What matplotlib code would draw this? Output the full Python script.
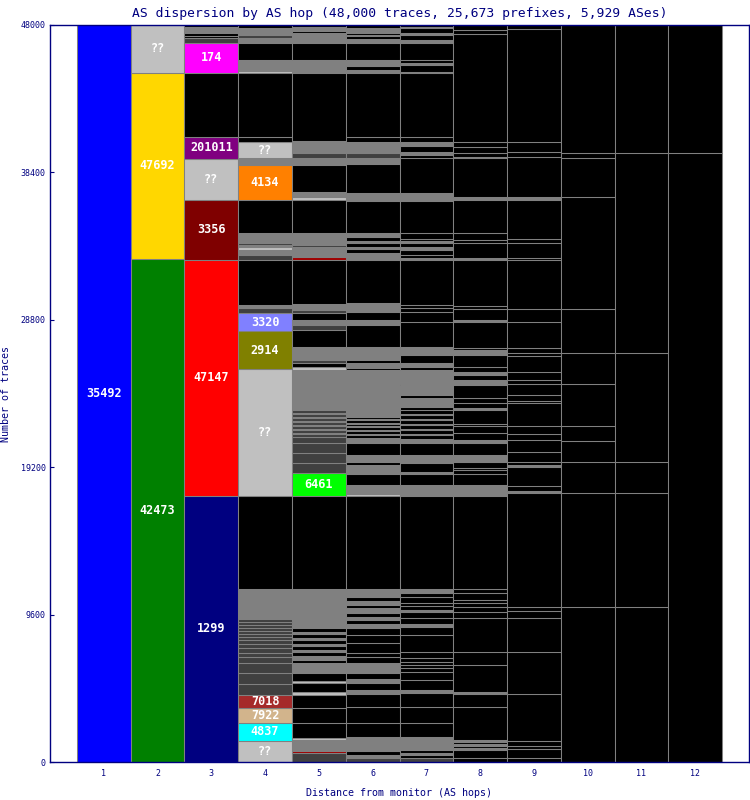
import matplotlib.pyplot as plt

title = 'AS dispersion by AS hop (48,000 traces, 25,673 prefixes, 5,929 ASes)'
hops = list(range(1, 13))
yticks = [0, 9600, 19200, 28800, 38400, 48000]

# traces per segment, bottom to top.
# kind is the AS shown in the box, or a filler: k black, g gray, d dark gray, l light gray, r red line
hop1_traces = [48000]
hop1_kinds = ['35492']

hop2_traces = [32760, 12114, 3126]
hop2_kinds = ['42473', '47692', '??']

hop3_traces = [17325, 15371, 3908, 2670, 1433, 4168, 1954, 326, 130, 195, 391, 130]
hop3_kinds = ['1299', '47147', '3356', '??', '201011', 'k', '174', 'd', 'k', 'k', 'g', 'k']

hop4_traces = [1368, 1172, 977, 847, 716, 716, 651, 391, 261, 326, 261, 261, 195,
               195, 195, 195, 195, 195, 195, 65, 1889, 6057, 8272, 2475, 1172, 326,
               195, 2931, 326, 326, 195, 130, 130, 651, 2149, 2280, 456, 1042, 326,
               4168, 130, 716, 1107, 326, 195, 456, 195]
hop4_kinds = ['??', '4837', '7922', '7018', 'd', 'd', 'd', 'd', 'd', 'd', 'd', 'd', 'd',
              'd', 'd', 'd', 'd', 'd', 'd', 'd', 'g', 'k', '??', '2914', '3320', 'd',
              'g', 'k', 'd', 'g', 'l', 'g', 'd', 'g', 'k', '4134', 'g', '??', 'k',
              'k', 'l', 'g', 'k', 'g', 'd', 'g', 'k']

hop5_traces = [586, 130, 716, 130, 977, 977, 847, 195, 586, 130, 521, 651, 195, 261,
               261, 130, 261, 130, 261, 130, 261, 130, 261, 391, 65, 2084, 6057,
               1498, 651, 651, 651, 391,
               195, 65, 195, 65, 195, 65, 195, 65, 195, 65, 195, 65, 195,
               2605, 195, 261, 195, 847, 1107, 326, 326, 456, 195, 391, 2866,
               195, 651, 130, 782, 2149, 195, 326, 1759, 456, 326, 782, 4429,
               847, 1107, 651, 130, 261, 130]
hop5_kinds = ['d', 'r', 'g', 'l', 'k', 'k', 'k', 'l', 'k', 'l', 'k', 'g', 'k', 'g',
              'k', 'g', 'k', 'g', 'k', 'g', 'k', 'g', 'k', 'g', 'k', 'g', 'k',
              '6461', 'd', 'd', 'd', 'd',
              'd', 'k', 'd', 'k', 'd', 'k', 'd', 'k', 'd', 'k', 'd', 'k', 'd',
              'g', 'l', 'k', 'd', 'g', 'k', 'd', 'g', 'k', 'd', 'g', 'k',
              'r', 'g', 'd', 'g', 'k', 'l', 'g', 'k', 'g', 'd', 'g', 'k',
              'g', 'k', 'g', 'k', 'g', 'k']

hop6_traces = [261, 195, 261, 912, 912, 1042, 847, 261, 456, 261, 391, 651, 391, 261,
               651, 521, 456, 261, 261, 195, 261, 326, 195, 261, 261, 521, 6057,
               130, 586, 716, 586, 195, 65, 65, 326, 782, 65, 261,
               195, 65, 195, 65, 195, 65, 130, 65, 195, 65, 130,
               3061, 130, 326, 195, 847, 1433, 326, 521, 586, 2801,
               456, 261, 130, 261, 130, 261, 261, 2084, 521, 1889, 391, 326, 716,
               326, 4168, 195, 261, 391, 1107, 261, 195, 65, 130, 326, 195]
hop6_kinds = ['d', 'g', 'k', 'g', 'k', 'k', 'k', 'g', 'k', 'g', 'k', 'g', 'k', 'k',
              'k', 'k', 'k', 'g', 'k', 'g', 'k', 'g', 'k', 'g', 'k', 'g', 'k',
              'l', 'g', 'k', 'g', 'k', 'l', 'k', 'g', 'k', 'l', 'g',
              'k', 'g', 'k', 'g', 'k', 'g', 'k', 'g', 'k', 'g', 'k',
              'g', 'k', 'g', 'k', 'g', 'k', 'g', 'k', 'g', 'k',
              'g', 'k', 'g', 'k', 'g', 'k', 'g', 'k', 'g', 'k', 'g', 'd', 'g',
              'k', 'k', 'g', 'k', 'g', 'k', 'g', 'k', 'g', 'k', 'g', 'k']

hop7_traces = [261, 195, 130, 195, 847, 912, 1042, 912, 195, 651, 521, 261, 195, 195,
               261, 391, 1107, 521, 195, 391, 391, 130, 261, 195, 391, 261, 261, 6057,
               716, 716, 130, 586, 521, 782, 261,
               261, 65, 261, 65, 261, 65, 261, 65, 261, 65, 261,
               195, 586, 195, 651, 65, 912, 195, 261, 521, 521, 1628, 651, 261, 195,
               2931, 130, 195, 326, 195, 261, 130, 130, 391, 2084, 521, 2280, 195,
               195, 391, 261, 326, 4168, 65, 456, 130, 195, 1107, 195, 326, 130,
               326, 65, 130]
hop7_kinds = ['d', 'k', 'g', 'k', 'g', 'k', 'k', 'k', 'g', 'k', 'k', 'k', 'k', 'k',
              'k', 'k', 'k', 'k', 'g', 'k', 'k', 'g', 'k', 'k', 'k', 'k', 'g', 'k',
              'g', 'k', 'g', 'k', 'g', 'k', 'g',
              'k', 'g', 'k', 'g', 'k', 'g', 'k', 'g', 'k', 'g', 'k',
              'k', 'g', 'k', 'g', 'k', 'g', 'k', 'g', 'k', 'g', 'k', 'k', 'k', 'k',
              'k', 'g', 'k', 'k', 'g', 'k', 'g', 'k', 'k', 'k', 'g', 'k', 'k',
              'g', 'k', 'g', 'k', 'k', 'g', 'k', 'g', 'k', 'k', 'g', 'k', 'g',
              'k', 'g', 'k']

hop8_traces = [261, 521, 130, 130, 130, 130, 130, 2149, 847, 130, 1759, 847, 2214, 391,
               326, 261, 195, 456, 261, 6057, 716, 716, 261, 130, 391, 456, 782, 195,
               456, 456, 130, 912, 130, 326, 326, 847, 326, 326, 195, 326, 782, 326,
               130, 1693, 130, 716, 195, 2996, 130, 977, 195, 456, 2149, 195, 2540,
               65, 261, 391, 326, 7034, 261, 326]
hop8_kinds = ['k', 'k', 'g', 'k', 'g', 'k', 'g', 'k', 'k', 'g', 'k', 'k', 'k', 'k',
              'k', 'k', 'k', 'k', 'k', 'k', 'g', 'k', 'k', 'k', 'k', 'g', 'k', 'g',
              'k', 'k', 'k', 'k', 'g', 'k', 'k', 'k', 'g', 'k', 'g', 'k', 'k', 'g',
              'k', 'k', 'g', 'k', 'k', 'k', 'g', 'k', 'k', 'k', 'k', 'g', 'k',
              'g', 'k', 'k', 'k', 'k', 'k', 'k']

hop9_traces = [261, 586, 195, 326, 3061, 2735, 2214, 456, 261, 7425, 130, 326, 1237,
               130, 195, 651, 782, 391, 521, 1498, 130, 391, 716, 261, 521, 1042, 195,
               326, 1693, 847, 3191, 130, 977, 261, 2540, 195, 2605, 326, 651, 7360, 261]
hop9_kinds = ['k', 'k', 'k', 'k', 'k', 'k', 'k', 'k', 'k', 'k', 'g', 'k', 'k',
              'g', 'k', 'k', 'k', 'k', 'k', 'k', 'k', 'k', 'k', 'k', 'k', 'k', 'k',
              'k', 'k', 'k', 'k', 'k', 'k', 'k', 'k', 'g', 'k', 'k', 'k', 'k', 'k']

hop10_traces = [10095, 7425, 2019, 1368, 977, 2735, 2019, 2866, 7295, 2540, 326, 8337]
hop10_kinds = ['k'] * 12

hop11_traces = [10095, 7425, 2019, 7099, 13026, 8337]
hop11_kinds = ['k'] * 6

hop12_traces = [39665, 8337]
hop12_kinds = ['k', 'k']

all_traces = [hop1_traces, hop2_traces, hop3_traces, hop4_traces, hop5_traces, hop6_traces,
              hop7_traces, hop8_traces, hop9_traces, hop10_traces, hop11_traces, hop12_traces]
all_kinds = [hop1_kinds, hop2_kinds, hop3_kinds, hop4_kinds, hop5_kinds, hop6_kinds,
             hop7_kinds, hop8_kinds, hop9_kinds, hop10_kinds, hop11_kinds, hop12_kinds]

colors = {
    '35492': '#0000ff', '42473': '#008000', '47692': '#ffd700', '??': '#c0c0c0',
    '1299': '#000080', '47147': '#ff0000', '3356': '#7f0000', '201011': '#800080',
    '174': '#ff00ff', '4134': '#ff8000', '3320': '#8080ff', '2914': '#808000',
    '6461': '#00ff00', '7018': '#a52a2a', '7922': '#d2b48c', '4837': '#00ffff',
    'k': '#000000', 'g': '#808080', 'd': '#404040', 'l': '#c0c0c0', 'r': '#a00000',
}
fillers = ['k', 'g', 'd', 'l', 'r']
navy = '#000080'
mono = 'DejaVu Sans Mono'

fig = plt.figure(figsize=(7.5, 8), dpi=100)
ax = fig.add_axes([50 / 750, 38 / 800, 699 / 750, 737 / 800])

for hop, traces, kinds in zip(hops, all_traces, all_kinds):
    bottom = 0
    for t, kind in zip(traces, kinds):
        ax.bar(hop, t, bottom=bottom, width=1.0, color=colors[kind],
               edgecolor='#808080', linewidth=0.75)
        if kind not in fillers:
            ax.text(hop, bottom + t / 2, kind, ha='center', va='center', color='white',
                    fontsize=8.5, fontweight='bold', family=mono)
        bottom += t

ax.set_xlim(0, 13)
ax.set_ylim(0, 48000)
ax.set_xticks(hops)
ax.set_yticks(yticks)
ax.tick_params(axis='y', direction='in', length=3, color=navy, labelcolor=navy,
               labelsize=6, pad=3)
ax.tick_params(axis='x', length=0, labelcolor=navy, labelsize=6, pad=5)
for lbl in ax.get_xticklabels() + ax.get_yticklabels():
    lbl.set_family(mono)
for sp in ax.spines.values():
    sp.set_color(navy)
    sp.set_linewidth(1)

ax.set_title(title, fontsize=9.4, color=navy, family=mono, pad=6)
ax.set_xlabel('Distance from monitor (AS hops)', fontsize=7.2, color=navy, family=mono,
              labelpad=7)
ax.set_ylabel('Number of traces', fontsize=7.2, color=navy, family=mono, labelpad=7)

fig.savefig('out.png', dpi=100)
